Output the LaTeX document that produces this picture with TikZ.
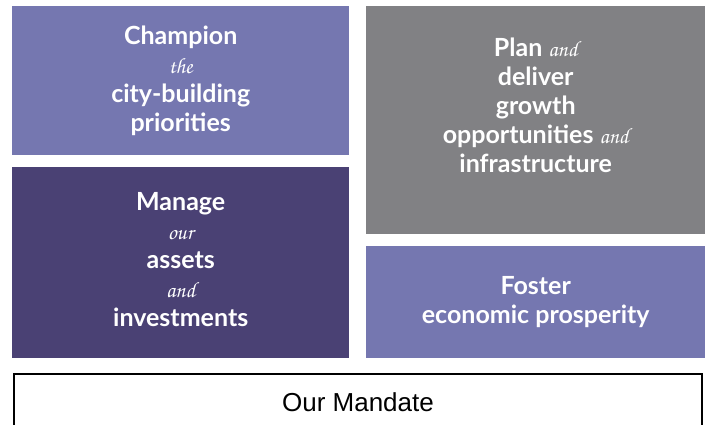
\documentclass[tikz,border=0pt]{standalone}
\usepackage{fontspec}
\usepackage{xcolor}
\usepackage{tikz}
\usetikzlibrary{positioning}
\setmainfont{Lato}
\newfontfamily\handfont{TeX Gyre Chorus}
\newfontfamily\plainfont{Liberation Sans}
\definecolor{lilac}{HTML}{7577B0}
\definecolor{plum}{HTML}{4A4174}
\definecolor{slate}{HTML}{818184}
\newcommand{\hw}[1]{{\handfont\mdseries\fontsize{22}{29}\selectfont #1}}
\tikzset{
    goal/.style={rectangle, fill=#1, inner sep=0pt, anchor=north west, text=white, align=center, font=\fontsize{25}{29}\selectfont\bfseries},
    mandate/.style={rectangle, draw=black, line width=2pt, inner sep=0pt, anchor=north west, font=\plainfont\fontsize{26}{30}\selectfont}
}

\begin{document}
\begin{tikzpicture}[x=1pt, y=-1pt]
    % Frame
    \useasboundingbox (0,0) rectangle (705,424);
    \clip (0,0) rectangle (705,424);

    % Left column
    \node[goal=lilac, minimum width=337pt, minimum height=149pt] (champion) at (12,6)
        {Champion\\ \hw{the}\\ city-building\\ priorities};
    \node[goal=plum, minimum width=337pt, minimum height=191pt, text depth=6pt] (manage) at (12,167)
        {Manage\\ \hw{our}\\ assets\\ \hw{and}\\ investments};

    % Right column
    \node[goal=slate, minimum width=339pt, minimum height=228pt, text depth=30pt] (plan) at (366,6)
        {Plan \hw{and}\\ deliver\\ growth\\ opportunities \hw{and}\\ infrastructure};
    \node[goal=lilac, minimum width=339pt, minimum height=112pt] (foster) at (366,246)
        {Foster\\ economic prosperity};

    % Base
    \node[mandate, minimum width=688pt, minimum height=56pt] (base) at (13,373) {Our Mandate};
\end{tikzpicture}
\end{document}
